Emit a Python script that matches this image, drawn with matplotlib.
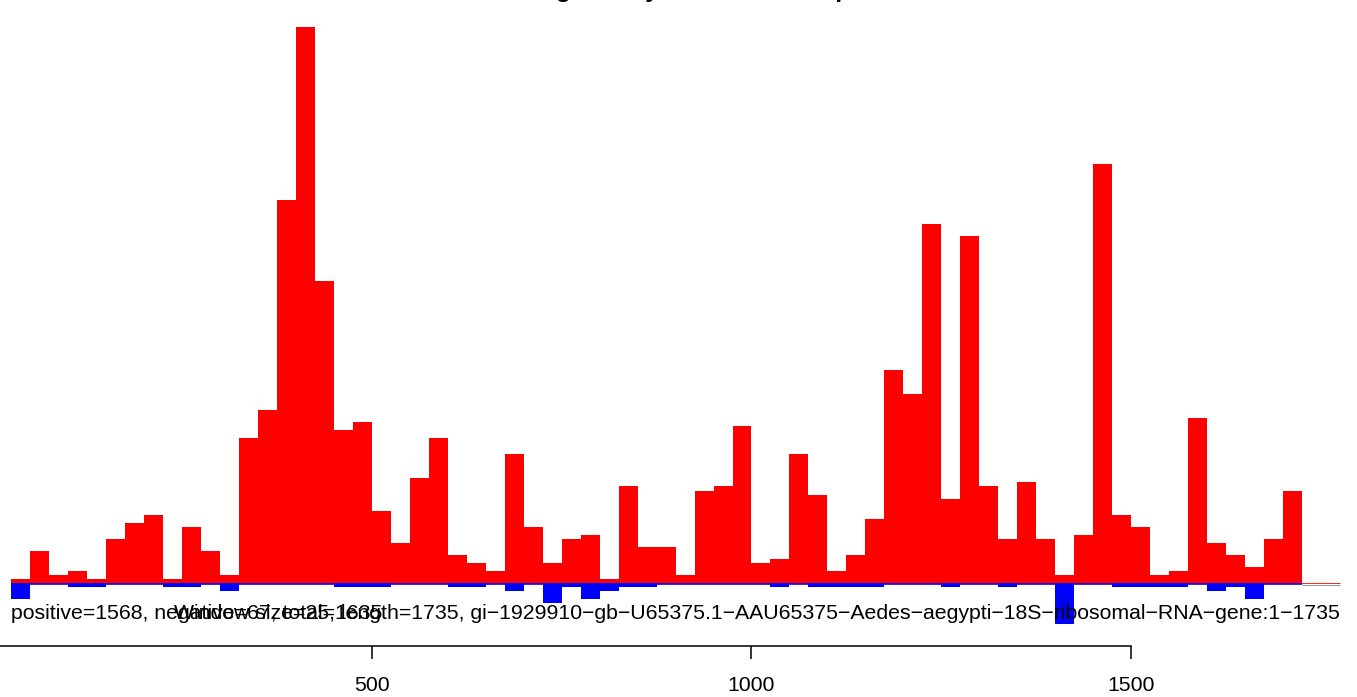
"""
Read density along 18S rRNA, positive vs negative strand
"""

import numpy as np
import matplotlib
matplotlib.use('Agg')
import matplotlib.pyplot as plt

plt.rcParams['font.family'] = ['Liberation Sans', 'DejaVu Sans']

window = 25
seq_len = 1735
positive = [1, 8, 2, 3, 1, 11, 15, 17, 1, 14,
            8, 2, 36, 43, 95, 138, 75, 38, 40, 18,
            10, 26, 36, 7, 5, 3, 32, 14, 5, 11,
            12, 1, 24, 9, 9, 2, 23, 24, 39, 5,
            6, 32, 22, 3, 7, 16, 53, 47, 89, 21,
            86, 24, 11, 25, 11, 2, 12, 104, 17, 14,
            2, 3, 41, 10, 7, 4, 11, 23]
negative = [4, 0, 0, 1, 1, 0, 0, 0, 1, 1,
            0, 2, 0, 0, 0, 0, 0, 1, 1, 1,
            0, 0, 0, 1, 1, 0, 2, 0, 5, 1,
            4, 2, 1, 1, 0, 0, 0, 0, 0, 0,
            1, 0, 1, 1, 1, 1, 0, 0, 0, 1,
            0, 0, 1, 0, 0, 10, 0, 0, 1, 1,
            1, 1, 0, 2, 1, 4, 0, 0]
starts = window * (np.arange(len(positive)) + 1)
xticks = [500, 1000, 1500]

title = 'Reading_Heavy_Strand_Read plot'
info = 'positive=1568, negative=67, total=1635'
label = ('Window size=25, length=1735, gi\u22121929910\u2212gb\u2212U65375.1\u2212AAU65375'
         '\u2212Aedes\u2212aegypti\u221218S\u2212ribosomal\u2212RNA\u2212gene:1\u22121735')

fig = plt.figure(figsize=(13.57, 6.97), dpi=100)
ax = fig.add_axes([0, 51 / 697, 1, 646 / 697])

ax.hlines(0.05, starts[0], seq_len + 40, color='red', lw=0.6, zorder=1)
ax.hlines(-0.3, starts[-1] + window, seq_len + 40, color='grey', lw=0.6, zorder=1)
ax.bar(starts, positive, width=window, align='edge', color='red', lw=0, zorder=2)
ax.bar(starts, -np.array(negative), width=window, align='edge', color='blue', lw=0, zorder=2)
ax.hlines(-0.21, starts[0], starts[-1] + window, color='blue', lw=1.2, zorder=3)

ax.text(starts[0], -7.6, info, ha='left', va='center', fontsize=15.3)
ax.text(seq_len + 40, -7.6, label, ha='right', va='center', fontsize=15.3)

for s in ['top', 'right', 'left']:
    ax.spines[s].set_visible(False)
ax.spines['bottom'].set_bounds(0, xticks[-1])
ax.spines['bottom'].set_linewidth(1.1)
ax.set_yticks([])
ax.set_xticks(xticks)
ax.tick_params(axis='x', length=9.4, width=1.1, pad=12, labelsize=15.3)
# limits last, set_xticks can widen them
ax.set_xlim(9.88, 1797.8)
ax.set_ylim(-15.54, 144.6)

fig.text(472 / 1357, 1 + 2.5 / 697, title, ha='left', va='baseline',
         fontsize=18.1, fontweight='bold')

fig.savefig('out.png', dpi=100)
